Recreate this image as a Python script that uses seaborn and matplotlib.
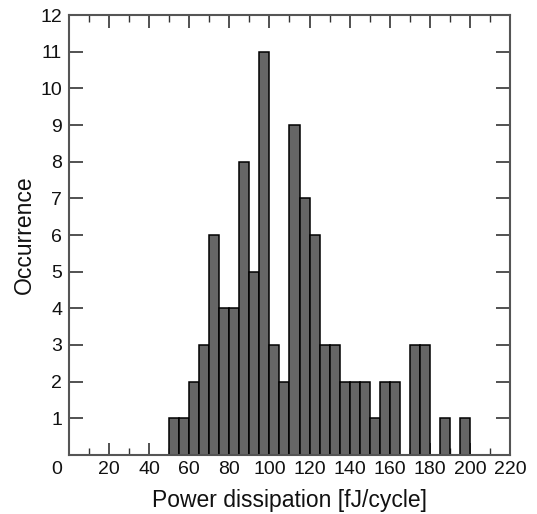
import numpy as np
import pandas as pd
import seaborn as sns
import matplotlib.pyplot as plt
import matplotlib.transforms as mtransforms

# Histogram counts, bins of width 5 starting at 50
bin_edges = list(range(50, 205, 5))
counts = [1, 1, 2, 3, 6, 4, 4, 8, 5, 11,
          3, 2, 9, 7, 6, 3, 3, 2, 2, 2,
          1, 2, 2, 0, 3, 3, 0, 1, 0, 1]
x_ticks = list(range(0, 221, 20))
y_ticks = list(range(1, 13))

bin_centers = [e + 2.5 for e in bin_edges[:-1]]
df = pd.DataFrame({"power": bin_centers, "count": counts})

sns.set_style("ticks")
plt.rcParams['font.family'] = ['Liberation Sans', 'DejaVu Sans']
plt.rcParams['text.color'] = '#111111'
plt.rcParams['xtick.labelcolor'] = '#111111'
plt.rcParams['ytick.labelcolor'] = '#111111'
plt.rcParams['axes.labelcolor'] = '#111111'

fig = plt.figure(figsize=(5.37, 5.14), dpi=100)
ax = fig.add_axes([0.1285, 0.1148, 0.8212, 0.856])

sns.histplot(data=df, x="power", weights="count", bins=bin_edges,
             color="#666666", edgecolor="black", linewidth=1.1, alpha=1.0, ax=ax)

ax.set_xlim(0, 220)
ax.set_ylim(0, 12)
ax.set_xticks(x_ticks)
ax.set_xticks(list(range(10, 220, 20)), minor=True)
ax.set_yticks(y_ticks)

for s in ax.spines.values():
    s.set_visible(True)
    s.set_color("#555555")
    s.set_linewidth(1.5)

ax.tick_params(axis='both', which='both', direction='in', top=True, right=True,
               color="#333333", labelsize=14)
ax.tick_params(axis='x', which='major', length=9, width=1.2, pad=4)
ax.tick_params(axis='x', which='minor', length=5, width=1.0)
ax.tick_params(axis='y', which='major', length=10, width=1.2, pad=5)

# the "0" label sits a little left of the origin
zero_lbl = ax.get_xticklabels()[0]
zero_lbl.set_transform(zero_lbl.get_transform() +
                       mtransforms.ScaledTranslation(-12 / 100, 0, fig.dpi_scale_trans))

ax.set_xlabel("Power dissipation [fJ/cycle]", fontsize=16.5, labelpad=8)
ax.set_ylabel("Occurrence", fontsize=16.5, labelpad=3)

fig.savefig("out.png", dpi=100)
